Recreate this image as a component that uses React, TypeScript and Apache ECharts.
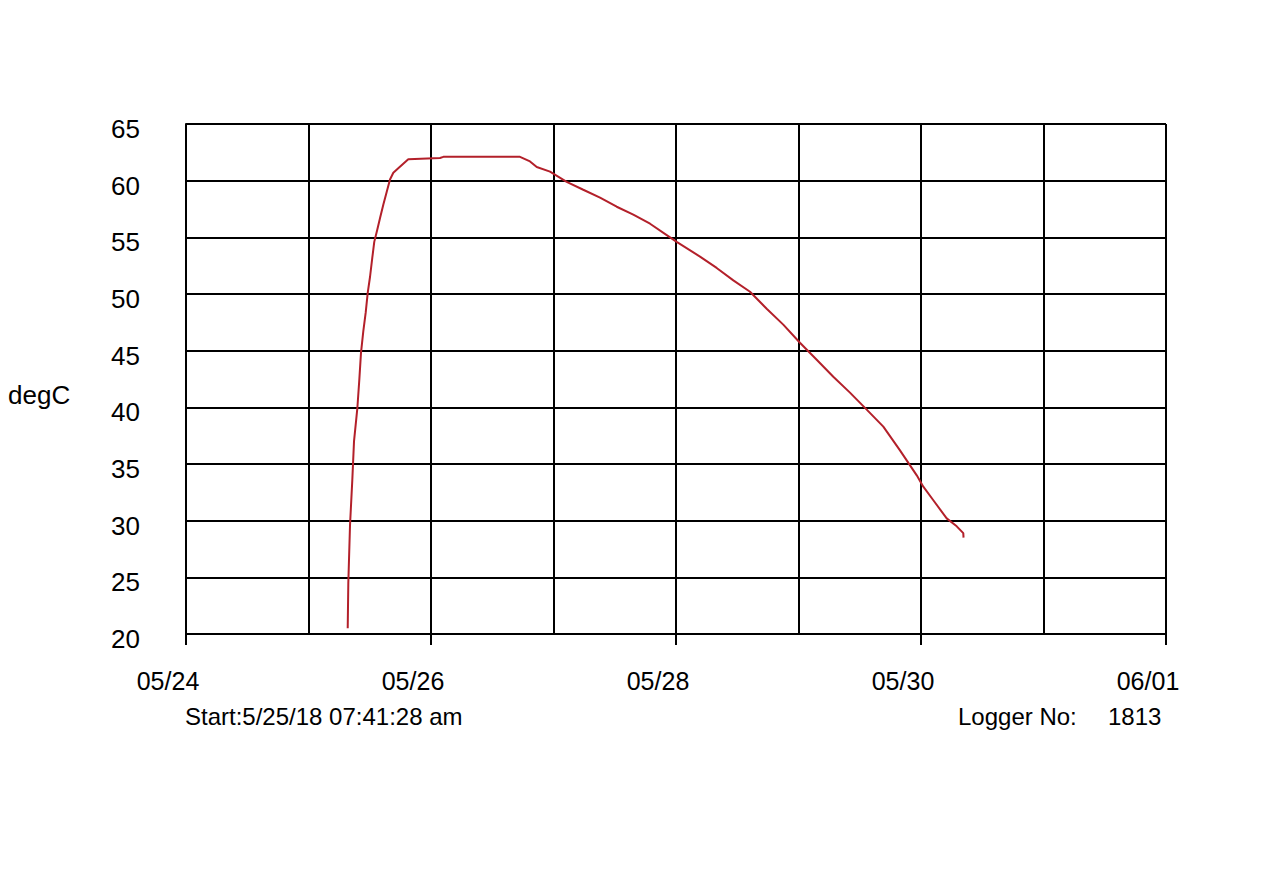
import React, { useEffect, useRef } from 'react';
import * as echarts from 'echarts';

// logger readings (wall clock times)
const readingTimes = [
  '2018-05-25T07:41', '2018-05-25T07:48', '2018-05-25T08:08', '2018-05-25T08:35',
  '2018-05-25T08:55', '2018-05-25T09:34', '2018-05-25T09:57', '2018-05-25T10:17',
  '2018-05-25T10:44', '2018-05-25T11:13', '2018-05-25T11:36', '2018-05-25T12:03',
  '2018-05-25T12:30', '2018-05-25T12:53', '2018-05-25T13:29', '2018-05-25T14:01',
  '2018-05-25T14:40', '2018-05-25T15:19', '2018-05-25T15:58', '2018-05-25T16:37',
  '2018-05-25T17:35', '2018-05-25T18:34', '2018-05-25T19:33', '2018-05-26T01:46',
  '2018-05-26T02:25', '2018-05-26T17:26', '2018-05-26T19:24', '2018-05-26T20:43',
  '2018-05-26T23:19', '2018-05-27T02:35', '2018-05-27T05:50', '2018-05-27T09:07',
  '2018-05-27T12:23', '2018-05-27T15:38', '2018-05-27T18:55', '2018-05-27T22:11',
  '2018-05-28T00:08', '2018-05-28T04:42', '2018-05-28T07:58', '2018-05-28T11:14',
  '2018-05-28T14:30', '2018-05-28T17:46', '2018-05-28T21:01', '2018-05-29T00:17',
  '2018-05-29T03:34', '2018-05-29T06:49', '2018-05-29T10:05', '2018-05-29T13:22',
  '2018-05-29T16:37', '2018-05-29T19:53', '2018-05-29T23:10', '2018-05-30T00:27',
  '2018-05-30T02:25', '2018-05-30T05:02', '2018-05-30T07:00', '2018-05-30T08:17',
  '2018-05-30T08:20'
];

const temperatures = [
  20.5, 24.5, 29.6, 33.6,
  37.0, 39.9, 42.4, 44.8,
  46.7, 48.4, 50.1, 51.5,
  53.2, 54.6, 55.7, 56.7,
  57.9, 59.0, 60.1, 60.7,
  61.1, 61.5, 61.9, 62.0,
  62.1, 62.1, 61.7, 61.2,
  60.8, 59.9, 59.2, 58.5,
  57.7, 57.0, 56.2, 55.2,
  54.6, 53.3, 52.3, 51.2,
  50.2, 48.7, 47.3, 45.7,
  44.2, 42.7, 41.3, 39.8,
  38.3, 36.2, 34.0, 33.0,
  31.8, 30.2, 29.5, 28.9,
  28.5
];

const axisStart = '2018-05-24T00:00';
const axisEnd = '2018-06-01T00:00';
const yTicks = [20, 25, 30, 35, 40, 45, 50, 55, 60, 65];

const startText = 'Start:5/25/18 07:41:28 am';
const loggerLabel = 'Logger No:';
const loggerNo = '1813';

const FONT = "'Liberation Sans', Arial, sans-serif";

const toMs = (t: string) => Date.parse(t + ':00Z');
const originMs = toMs(axisStart);
const toHours = (t: string) => (toMs(t) - originMs) / 3600000;

const App: React.FC = () => {
  const chartRef = useRef<HTMLDivElement>(null);

  useEffect(() => {
    document.body.style.margin = '0';
    if (!chartRef.current) return;
    const chart = echarts.init(chartRef.current, undefined, { renderer: 'svg' });

    const seriesData = readingTimes.map((t, i) => [toHours(t), temperatures[i]]);
    const maxHours = toHours(axisEnd);

    const fmtDay = (h: number) => {
      const d = new Date(originMs + h * 3600000);
      const mm = String(d.getUTCMonth() + 1).padStart(2, '0');
      const dd = String(d.getUTCDate()).padStart(2, '0');
      return `${mm}/${dd}`;
    };

    const gridLine = { show: true, lineStyle: { color: '#000', width: 2 } };

    const option: any = {
      animation: false,
      backgroundColor: '#fff',
      textStyle: { fontFamily: FONT },
      grid: { left: 186, right: 114, top: 124, bottom: 238, containLabel: false },
      xAxis: {
        type: 'value',
        min: 0,
        max: maxHours,
        interval: 48,
        axisLine: { show: true, lineStyle: { color: '#000', width: 2 } },
        axisTick: { show: true, length: 11, lineStyle: { color: '#000', width: 2 } },
        minorTick: { show: false, splitNumber: 2 },
        splitLine: gridLine,
        minorSplitLine: gridLine,
        axisLabel: {
          color: '#000',
          fontSize: 25,
          fontFamily: FONT,
          margin: 34,
          padding: [0, 36, 0, 0],
          formatter: (v: number) => fmtDay(v)
        }
      },
      yAxis: {
        type: 'value',
        min: yTicks[0],
        max: yTicks[yTicks.length - 1],
        interval: 5,
        axisLine: { show: true, lineStyle: { color: '#000', width: 2 } },
        axisTick: { show: false },
        splitLine: gridLine,
        axisLabel: {
          color: '#000',
          fontSize: 26,
          fontFamily: FONT,
          margin: 46,
          verticalAlign: 'top',
          lineHeight: 10
        }
      },
      series: [
        {
          type: 'line',
          data: seriesData,
          showSymbol: false,
          lineStyle: { color: '#b3202a', width: 2 },
          z: 5
        }
      ],
      graphic: [
        {
          type: 'text',
          left: 8,
          top: 382,
          style: { text: 'degC', font: `26px ${FONT}`, fill: '#000' }
        },
        {
          type: 'text',
          left: 185,
          top: 704,
          style: { text: startText, font: `24px ${FONT}`, fill: '#000' }
        },
        {
          type: 'text',
          left: 958,
          top: 704,
          style: { text: loggerLabel, font: `24px ${FONT}`, fill: '#000' }
        },
        {
          type: 'text',
          left: 1108,
          top: 704,
          style: { text: loggerNo, font: `24px ${FONT}`, fill: '#000' }
        }
      ]
    };

    chart.setOption(option);

    const handleResize = () => chart.resize();
    window.addEventListener('resize', handleResize);
    return () => {
      window.removeEventListener('resize', handleResize);
      chart.dispose();
    };
  }, []);

  return <div ref={chartRef} style={{ width: 1280, height: 872 }} />;
};

export default App;
